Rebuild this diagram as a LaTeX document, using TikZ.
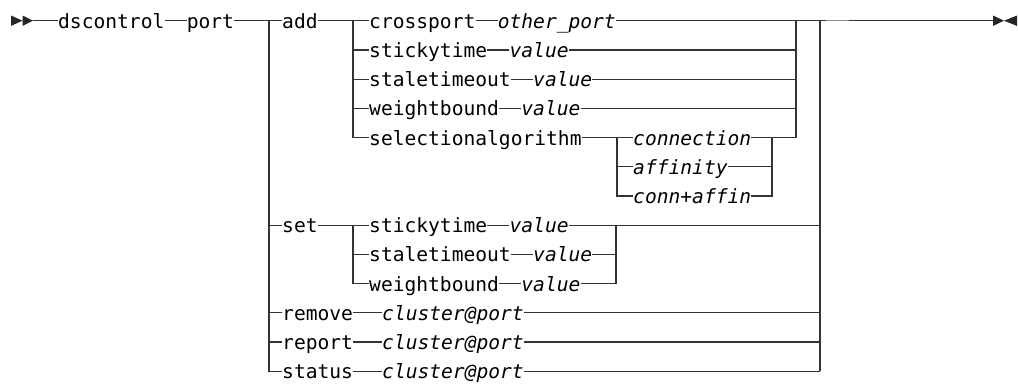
\documentclass[tikz,border=0pt]{standalone}
\usepackage{fontspec}
\setmonofont{DejaVu Sans Mono}
\usetikzlibrary{positioning,calc}
\tikzset{
    rail/.style={line width=1.2pt,draw=black!80},
    kw/.style={inner sep=0pt,text height=15pt,text depth=0pt,
        font=\fontsize{19.6}{20}\selectfont\ttfamily},
    var/.style={kw,font=\fontsize{19.6}{20}\selectfont\ttfamily\itshape},
    node distance=22pt
}

\begin{document}
\begin{tikzpicture}[x=1pt,y=-1pt]
    \useasboundingbox (0,0) rectangle (1018,384);
    % columns of the branches
    \coordinate (bL)  at (269,0);
    \coordinate (bA)  at (353,0);
    \coordinate (bS)  at (617,0);
    \coordinate (bSR) at (772,0);
    \coordinate (bTR) at (616,0);
    \coordinate (bAR) at (796,0);
    \coordinate (bR)  at (820,0);
    \coordinate (start)  at (33,20.7);
    \coordinate (finish) at (993,20.7);

    % main line
    \node[kw,anchor=west] (ds) at (58,20.7) {dscontrol};
    \node[kw,right=of ds] (port) {port};
    \node[kw,anchor=west] (add) at (282,20.7) {add};
    \node[kw,anchor=west] (cp) at (369,20.7) {crossport};
    \node[var,right=of cp] (op) {other\_port};
    % add rows
    \node[kw,anchor=west] (st1) at (369,50) {stickytime};
    \node[var,right=of st1] (v1) {value};
    \node[kw,anchor=west] (sl1) at (369,79.2) {staletimeout};
    \node[var,right=of sl1] (v2) {value};
    \node[kw,anchor=west] (wb1) at (369,108.4) {weightbound};
    \node[var,right=of wb1] (v3) {value};
    \node[kw,anchor=west] (sa) at (369,137.6) {selectionalgorithm};
    \node[var,anchor=west] (con) at (633,137.6) {connection};
    \node[var,anchor=west] (aff) at (633,166.8) {affinity};
    \node[var,anchor=west] (ca) at (633,196) {conn+affin};
    % set rows
    \node[kw,anchor=west] (set) at (282,225.2) {set};
    \node[kw,anchor=west] (st2) at (369,225.2) {stickytime};
    \node[var,right=of st2] (v4) {value};
    \node[kw,anchor=west] (sl2) at (369,254.4) {staletimeout};
    \node[var,right=of sl2] (v5) {value};
    \node[kw,anchor=west] (wb2) at (369,283.6) {weightbound};
    \node[var,right=of wb2] (v6) {value};
    % last rows
    \node[kw,anchor=west] (rm) at (282,312.8) {remove};
    \node[var,anchor=west] (c1) at (382,312.8) {cluster@port};
    \node[kw,anchor=west] (rp) at (282,342) {report};
    \node[var,anchor=west] (c2) at (382,342) {cluster@port};
    \node[kw,anchor=west] (ss) at (282,371.2) {status};
    \node[var,anchor=west] (c3) at (382,371.2) {cluster@port};

    % start and end marks
    \fill[black!85] (11,15.5) -- (22.5,20.7) -- (11,25.9) -- cycle
        (22.5,15.5) -- (start) -- (22.5,25.9) -- cycle;
    \fill[black!85] (finish) ++(0,-5.2) -- ++(11,5.2) -- ++(-11,5.2) -- cycle
        (1017,15.5) -- (1004,20.7) -- (1017,25.9) -- cycle;

    % main line
    \draw[rail] (start) -- (ds);
    \draw[rail] (ds) -- (port);
    \draw[rail] (port) -- (add);
    \draw[rail] (add) -- (cp);
    \draw[rail] (cp) -- (op);
    \draw[rail] (op.east) -- (finish);
    \draw[line width=1.6pt,black!45] (826,20.5) -- (849,20.5);

    % first choice
    \draw[rail] (bL |- add) |- (ss.west);
    \draw[rail] (bL |- set) -- (set);
    \draw[rail] (bL |- rm) -- (rm);
    \draw[rail] (bL |- rp) -- (rp);
    \draw[rail] (rm) -- (c1);
    \draw[rail] (rp) -- (c2);
    \draw[rail] (ss) -- (c3);
    \draw[rail] (c1.east) -- (bR |- c1);
    \draw[rail] (c2.east) -- (bR |- c2);
    \draw[rail] (c3.east) -- (bR |- c3);
    \draw[rail] (bR |- op) -- (bR |- c3);

    % add choice
    \draw[rail] (bA |- cp) |- (sa.west);
    \draw[rail] (bA |- st1) -- (st1);
    \draw[rail] (bA |- sl1) -- (sl1);
    \draw[rail] (bA |- wb1) -- (wb1);
    \draw[rail] (st1) -- (v1);
    \draw[rail] (sl1) -- (v2);
    \draw[rail] (wb1) -- (v3);
    \draw[rail] (v1.east) -- (bAR |- v1);
    \draw[rail] (v2.east) -- (bAR |- v2);
    \draw[rail] (v3.east) -- (bAR |- v3);
    \draw[rail] (bAR |- op) -- (bAR |- sa);

    % algorithm choice
    \draw[rail] (sa) -- (con);
    \draw[rail] (bS |- con) |- (ca.west);
    \draw[rail] (bS |- aff) -- (aff);
    \draw[rail] (con.east) -- (bAR |- con);
    \draw[rail] (aff.east) -- (bSR |- aff);
    \draw[rail] (ca.east) -| (bSR |- con);

    % set choice
    \draw[rail] (set) -- (st2);
    \draw[rail] (bA |- st2) |- (wb2.west);
    \draw[rail] (bA |- sl2) -- (sl2);
    \draw[rail] (st2) -- (v4);
    \draw[rail] (sl2) -- (v5);
    \draw[rail] (wb2) -- (v6);
    \draw[rail] (v4.east) -- (bR |- v4);
    \draw[rail] (v5.east) -- (bTR |- v5);
    \draw[rail] (v6.east) -| (bTR |- v4);
\end{tikzpicture}
\end{document}
